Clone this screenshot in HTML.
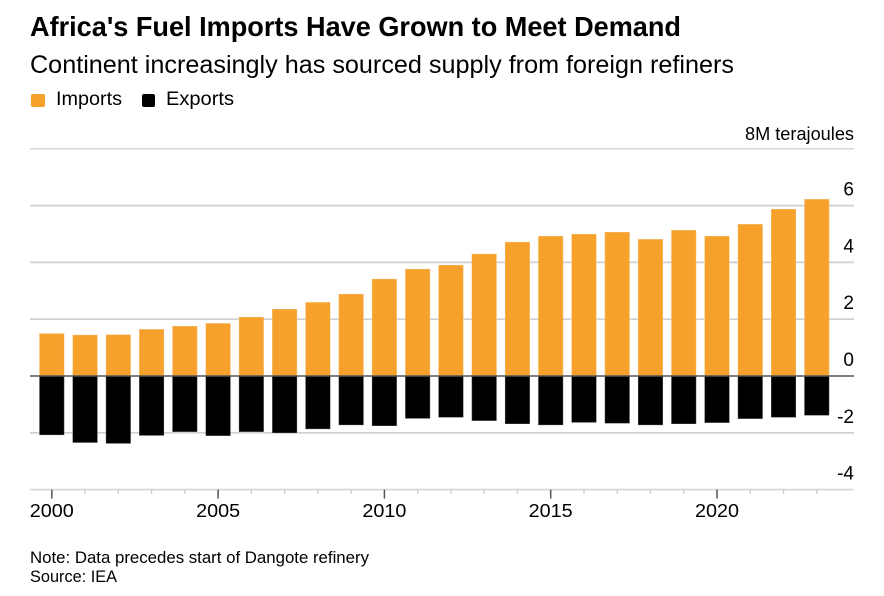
<!DOCTYPE html>
<html lang="en">
<head>
<meta charset="utf-8">
<title>Africa's Fuel Imports Have Grown to Meet Demand</title>
<style>
html,body{margin:0;padding:0;background:#fff;}
svg{display:block;font-family:"Liberation Sans",Arial,sans-serif;fill:#000;}
</style>
</head>
<body>
<svg id="chart" width="884" height="596" viewBox="0 0 884 596" xmlns="http://www.w3.org/2000/svg">
  <text x="30" y="36" font-size="27.5" font-weight="700" textLength="651" lengthAdjust="spacingAndGlyphs">Africa's Fuel Imports Have Grown to Meet Demand</text>
  <text x="30" y="73" font-size="25" textLength="704" lengthAdjust="spacingAndGlyphs">Continent increasingly has sourced supply from foreign refiners</text>
  <g>
    <rect x="31" y="94" width="14" height="13" rx="2" fill="#f5a12c"/>
    <text x="56" y="105" font-size="19.5" textLength="66" lengthAdjust="spacingAndGlyphs">Imports</text>
    <rect x="142" y="94" width="13" height="13" rx="2" fill="#000"/>
    <text x="166" y="105" font-size="19.5" textLength="68" lengthAdjust="spacingAndGlyphs">Exports</text>
  </g>
  <text x="745" y="140" font-size="18" textLength="109" lengthAdjust="spacingAndGlyphs">8M terajoules</text>
  <g id="grid"></g>
  <g id="bars"></g>
  <g id="axes"></g>
  <text x="30" y="563" font-size="16.5" textLength="339" lengthAdjust="spacingAndGlyphs">Note: Data precedes start of Dangote refinery</text>
  <text x="30" y="582" font-size="16.5" textLength="87" lengthAdjust="spacingAndGlyphs">Source: IEA</text>
</svg>
<script>
const years = [2000,2001,2002,2003,2004,2005,2006,2007,2008,2009,2010,2011,2012,2013,2014,2015,2016,2017,2018,2019,2020,2021,2022,2023];
const imports = [1.50,1.45,1.46,1.65,1.76,1.86,2.08,2.36,2.60,2.89,3.42,3.77,3.91,4.30,4.72,4.93,5.00,5.07,4.82,5.14,4.93,5.35,5.88,6.23];
const exports_ = [-2.08,-2.35,-2.38,-2.10,-1.97,-2.11,-1.97,-2.01,-1.87,-1.73,-1.76,-1.50,-1.46,-1.58,-1.69,-1.73,-1.64,-1.67,-1.73,-1.69,-1.65,-1.51,-1.46,-1.39];
const yTicks = [8,6,4,2,0,-2,-4];
const yTickLabels = ["","6","4","2","0","-2","-4"];
const labelledYears = [2000,2005,2010,2015,2020];

const NS = 'http://www.w3.org/2000/svg';
const xScale = year => 51.8 + (year - 2000) * 33.26;
const yScale = value => 376 - value * 28.4;
const BAR_WIDTH = 25;
const LEFT = 30, RIGHT = 854;

function make(tag, attrs, parent, text) {
  const el = document.createElementNS(NS, tag);
  for (const k in attrs) el.setAttribute(k, attrs[k]);
  if (text !== undefined) el.textContent = text;
  parent.appendChild(el);
  return el;
}

const grid = document.getElementById('grid');
const bars = document.getElementById('bars');
const axes = document.getElementById('axes');

yTicks.forEach((t, i) => {
  if (t !== 0) {
    const line = make('line', {x1: LEFT, x2: RIGHT, y1: yScale(t), y2: yScale(t), stroke: t === 8 || t === -4 ? '#d8d8d8' : '#cfcfcf', 'stroke-width': 1.7}, grid);
    
    
  }
  if (yTickLabels[i]) {
    const label = make('text', {x: RIGHT, y: yScale(t) - 10, 'font-size': 19, 'text-anchor': 'end'}, axes, yTickLabels[i]);
    
    
  }
});

years.forEach((year, i) => {
  const x = xScale(year) - BAR_WIDTH / 2;
  const top = yScale(imports[i]);
  const bottom = yScale(exports_[i]);
  const imp = make('rect', {x: x, y: top, width: BAR_WIDTH, height: yScale(0) - top, fill: '#f5a12c', stroke: '#fff', 'stroke-opacity': 0.3, 'stroke-width': 1}, bars);
  
  
  const exp = make('rect', {x: x, y: yScale(0), width: BAR_WIDTH, height: bottom - yScale(0), fill: '#000', stroke: '#fff', 'stroke-opacity': 0.3, 'stroke-width': 1}, bars);
  
  

  const major = labelledYears.includes(year);
  const tick = make('line', {x1: xScale(year), x2: xScale(year), y1: yScale(-4), y2: yScale(-4) + (major ? 9 : 4.5), stroke: major ? '#555' : '#ccc', 'stroke-width': major ? 1.5 : 1.3}, axes);
  
  
  if (major) {
    const label = make('text', {x: xScale(year), y: 517, 'font-size': 18.5, 'text-anchor': 'middle', textLength: 44, lengthAdjust: 'spacingAndGlyphs'}, axes, String(year));
    
    
  }
});

const zero = make('line', {x1: LEFT, x2: RIGHT, y1: yScale(0), y2: yScale(0), stroke: '#555', 'stroke-width': 1.6}, axes);


</script>
</body>
</html>
